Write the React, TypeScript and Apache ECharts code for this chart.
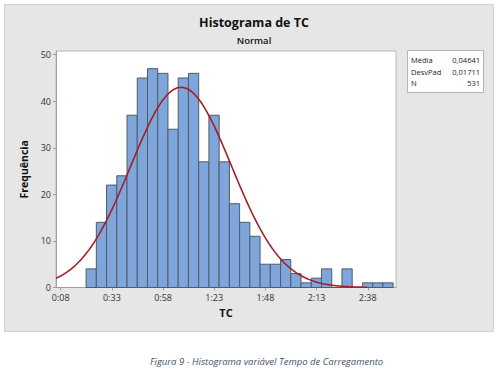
import React, { useEffect, useRef } from "react";
import * as echarts from "echarts";

// Histogram counts (bins of 5 minutes, starting at binStart)
const counts = [4, 14, 22, 24, 37, 45, 47, 46, 34, 45, 46, 27, 37, 27, 18, 14, 11, 5, 5, 6, 3, 1, 2, 4, 0, 4, 0, 1, 1, 1];
const binStart = 20.4; // minutes
const binWidth = 5; // minutes
const xTicks = [8, 33, 58, 83, 108, 133, 158]; // minutes
const yTicks = [0, 10, 20, 30, 40, 50];
const mediaDays = 0.04641;
const desvPadDays = 0.01711;
const nObs = 531;
const statLabels = ["Média", "DesvPad", "N"];
const statValues = ["0,04641", "0,01711", "531"];

const fmt = (m: number) => {
  const h = Math.floor(m / 60);
  const mm = Math.round(m - h * 60);
  return `${h}:${mm < 10 ? "0" + mm : mm}`;
};

export default function App() {
  const ref = useRef<HTMLDivElement>(null);
  useEffect(() => {
    if (!ref.current) return;
    const chart = echarts.init(ref.current, undefined, { renderer: "svg" });
    const font = "'Open Sans', 'Noto Sans', sans-serif";
    const bars = counts.map((c, i) => [binStart + i * binWidth, binStart + (i + 1) * binWidth, c]);
    const mu = mediaDays * 1440;
    const sd = desvPadDays * 1440;
    const xMin = 5.7;
    const xMax = 171.8;
    const curve: number[][] = [];
    for (let x = xMin; x <= 158.01; x += 0.5) {
      const z = (x - mu) / sd;
      curve.push([x, (nObs * binWidth) / (sd * Math.sqrt(2 * Math.PI)) * Math.exp(-0.5 * z * z)]);
    }
    const statTexts: any[] = [];
    statLabels.forEach((l, i) => {
      statTexts.push({
        type: "text", left: 411, top: 56 + i * 11.5,
        style: { text: l, fontSize: 7.5, fontFamily: font, fill: "#222" }, z: 10,
      });
      statTexts.push({
        type: "text", right: 498 - 480, top: 56 + i * 11.5,
        style: { text: statValues[i], fontSize: 7.5, fontFamily: font, fill: "#222", align: "right" }, z: 10,
      });
    });
    chart.setOption({
      animation: false,
      textStyle: { fontFamily: font },
      title: [
        {
          text: "Histograma de TC", left: 249, top: 11, textAlign: "center",
          textStyle: { fontSize: 12.5, fontWeight: "bold", color: "#111", fontFamily: font },
        },
        {
          text: "Normal", left: 249, top: 30, textAlign: "center",
          textStyle: { fontSize: 9.5, fontWeight: 600, color: "#111", fontFamily: font },
        },
      ],
      graphic: [
        {
          type: "rect", z: -100, left: 4, top: 4,
          shape: { x: 0, y: 0, width: 489, height: 327 },
          style: { fill: "#e6e6e6", stroke: "#d2d2d2", lineWidth: 1 },
        },
        {
          type: "rect", z: 5, left: 407, top: 50,
          shape: { x: 0, y: 0, width: 76, height: 42 },
          style: { fill: "#ffffff", stroke: "#b4b4b4", lineWidth: 1 },
        },
        ...statTexts,
        {
          type: "text", left: 150, top: 356,
          style: {
            text: "Figura 9 - Histograma variável Tempo de Carregamento",
            fontSize: 9.5, fontStyle: "italic", fontFamily: font, fill: "#44546A",
          },
        },
      ],
      grid: {
        left: 56, top: 51, right: 102, bottom: 88.5,
        show: true, backgroundColor: "#ffffff", borderColor: "#b8b8b8", borderWidth: 1,
      },
      xAxis: {
        type: "value", min: xMin, max: xMax,
        name: "TC", nameLocation: "middle", nameGap: 19,
        nameTextStyle: { fontSize: 11, fontWeight: "bold", color: "#111", fontFamily: font },
        axisLine: { show: true, onZero: false, lineStyle: { color: "#a0a0a0" } },
        axisTick: { show: true, length: 3, customValues: xTicks, lineStyle: { color: "#a0a0a0" } },
        axisLabel: {
          customValues: xTicks, formatter: (v: number) => fmt(v),
          fontSize: 9, color: "#333", margin: 5, fontFamily: font,
        },
        splitLine: { show: false },
      },
      yAxis: {
        type: "value", min: 0, max: 50.8,
        name: "Frequência", nameLocation: "middle", nameGap: 23,
        nameTextStyle: { fontSize: 10.5, fontWeight: "bold", color: "#111", fontFamily: font },
        axisLine: { show: true, lineStyle: { color: "#a0a0a0" } },
        axisTick: { show: true, length: 3, customValues: yTicks, lineStyle: { color: "#a0a0a0" } },
        axisLabel: { customValues: yTicks, fontSize: 9, color: "#333", margin: 5, fontFamily: font },
        splitLine: { show: false },
      },
      series: [
        {
          type: "custom",
          data: bars,
          renderItem: (params: any, api: any) => {
            const p0 = api.coord([api.value(0), api.value(2)]);
            const p1 = api.coord([api.value(1), 0]);
            return {
              type: "rect",
              shape: { x: p0[0], y: p0[1], width: p1[0] - p0[0], height: p1[1] - p0[1] },
              style: { fill: "#7ea6da", stroke: "#4f5b69", lineWidth: 1 },
            };
          },
          z: 2,
        },
        {
          type: "line", data: curve, showSymbol: false, smooth: false,
          lineStyle: { color: "#a31f24", width: 1.6 }, z: 3,
        },
      ],
    });
    return () => chart.dispose();
  }, []);
  return (
    <div
      ref={ref}
      style={{ position: "fixed", left: 0, top: 0, width: 498, height: 376, background: "#ffffff" }}
    />
  );
}
